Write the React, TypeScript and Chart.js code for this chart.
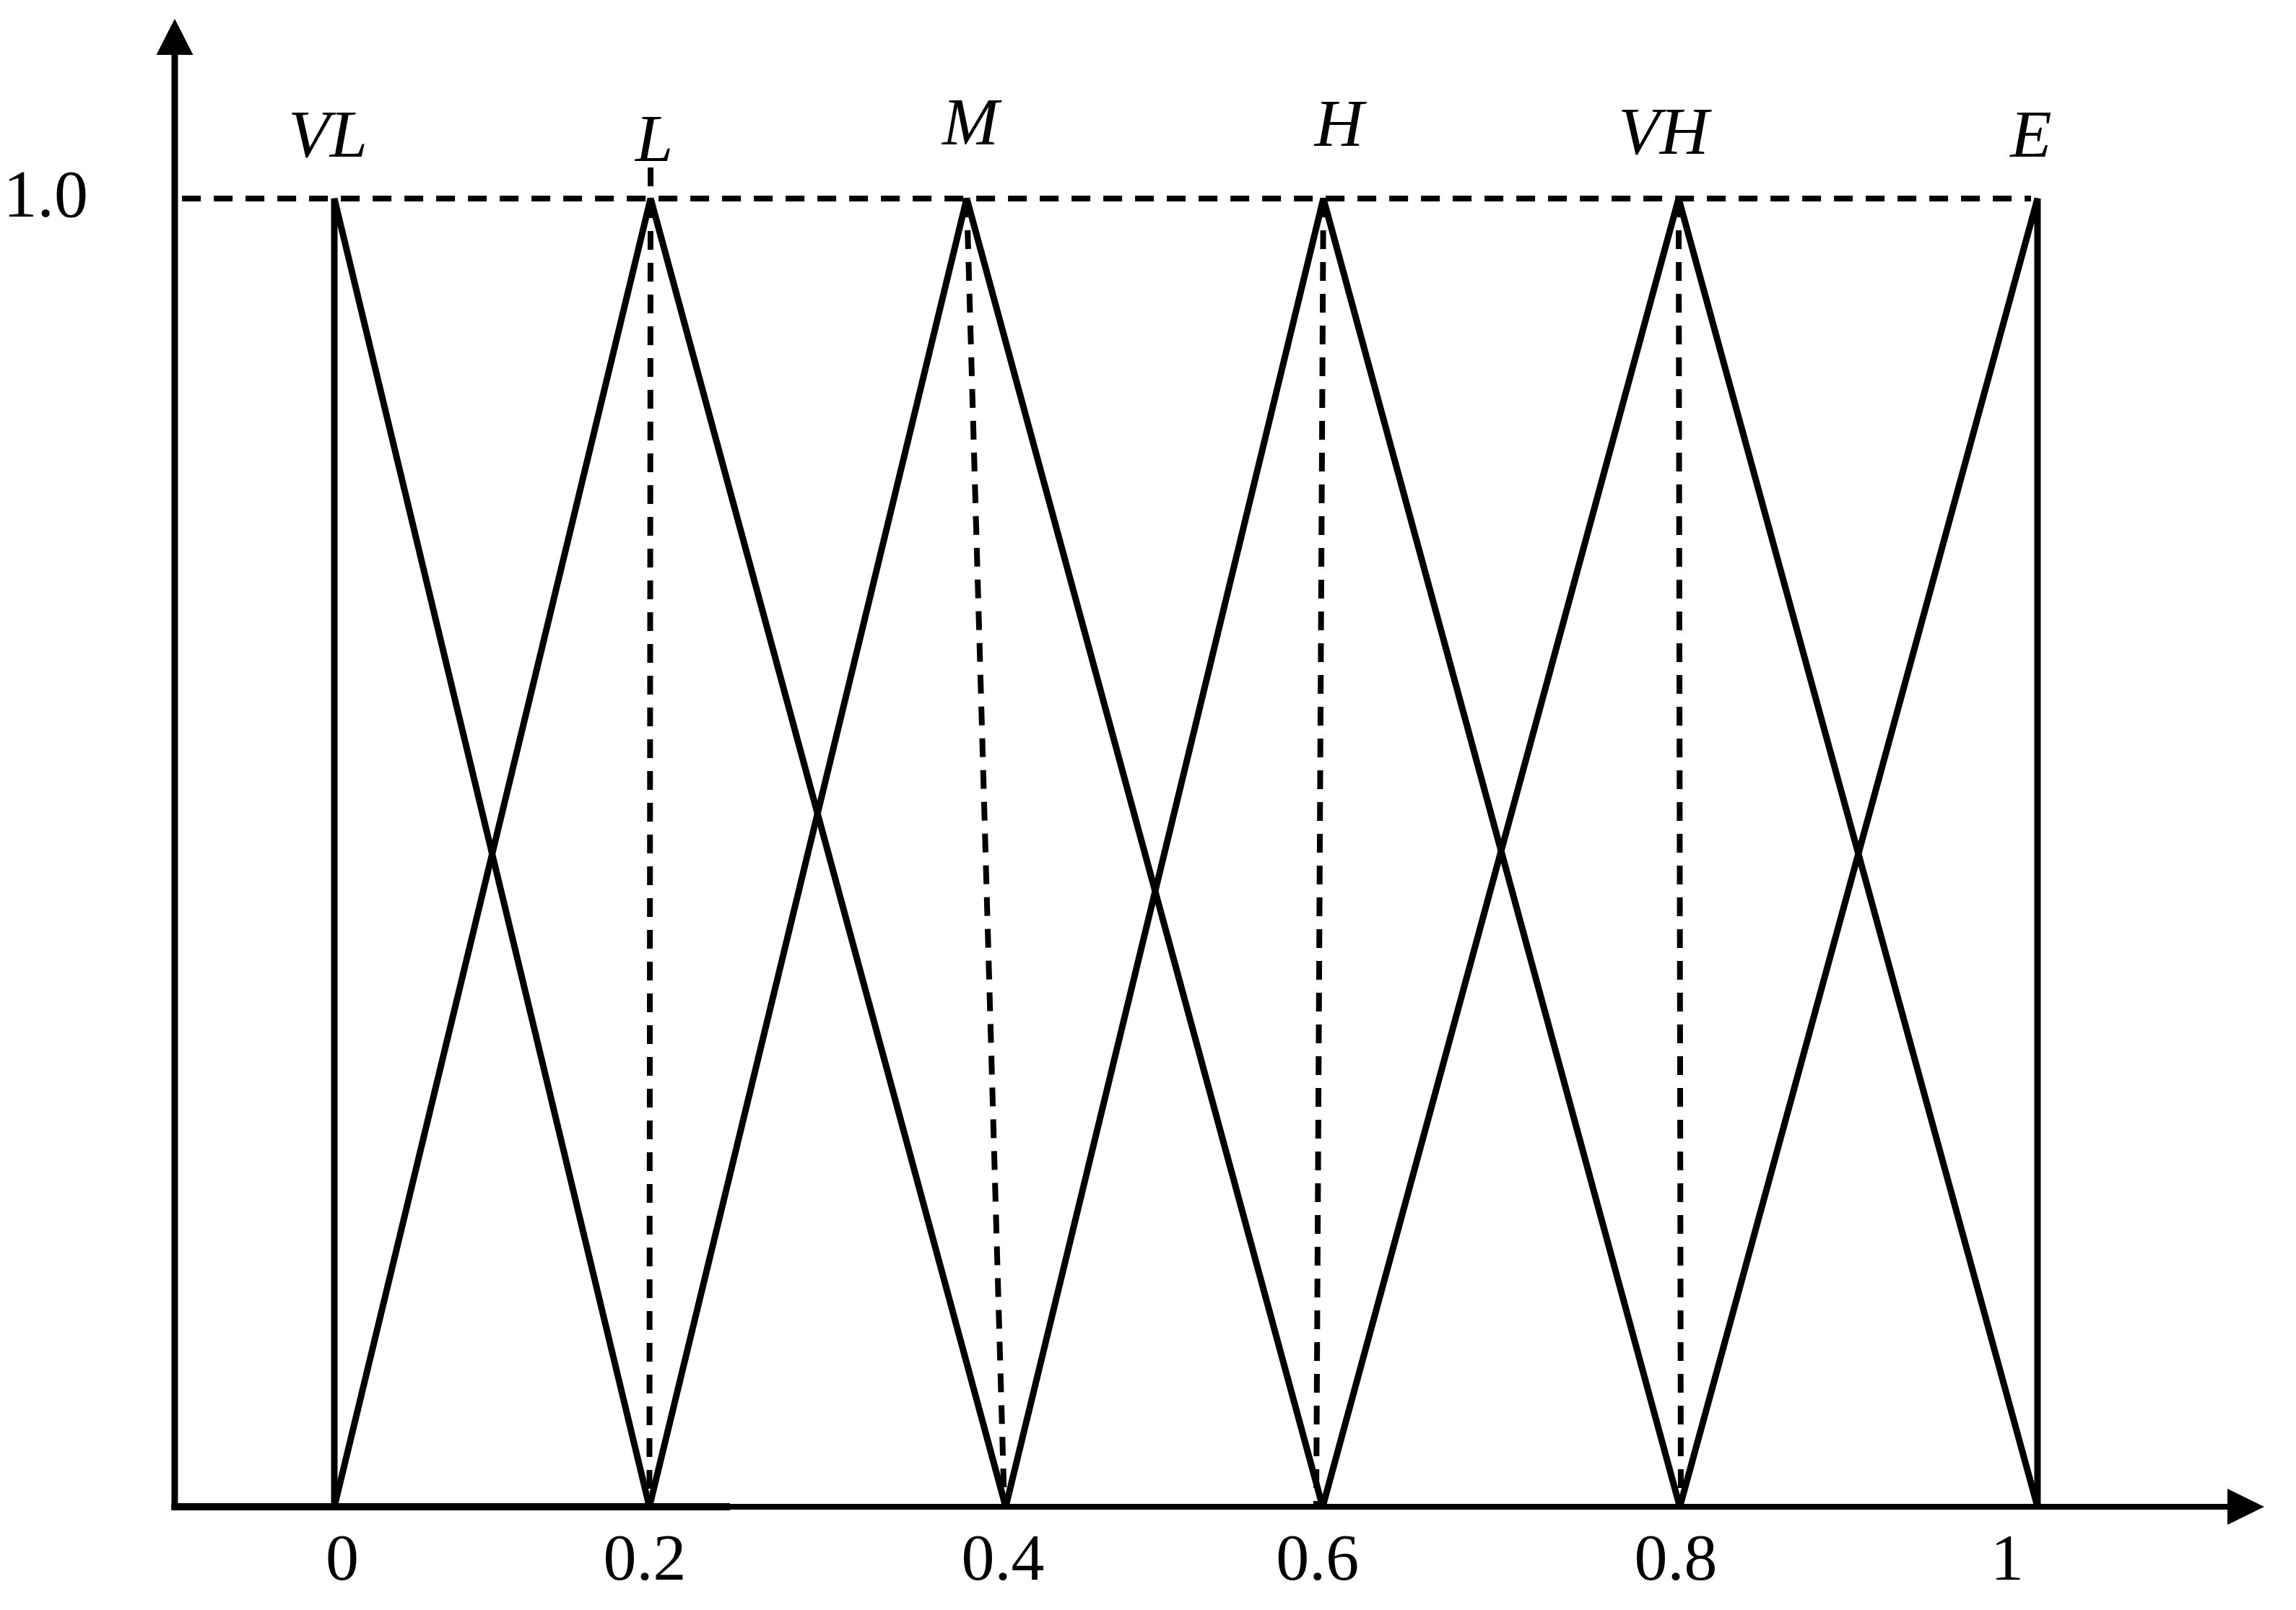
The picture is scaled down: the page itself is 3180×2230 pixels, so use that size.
import React, { useEffect, useRef } from "react";
import { Chart, registerables } from "chart.js";

Chart.register(...registerables);

// Linguistic terms of the fuzzy partition
const TERMS = ["VL", "L", "M", "H", "VH", "E"];
// Positions (drawn axis units) where each triangle reaches membership 1
const PEAK_X = [0, 0.1857, 0.3713, 0.5807, 0.7893, 1.0];
// Left and right feet (membership 0) of each triangle
const LEFT_FOOT_X = [0, 0, 0.185, 0.3942, 0.5803, 0.79];
const RIGHT_FOOT_X = [0.185, 0.3942, 0.5803, 0.79, 1.0, 1.0];
const PEAK_Y = 1;
const FOOT_Y = 0;

// Dashed guide lines from peaks down to the axis
const GUIDE_TOP_X = [0.1857, 0.3713, 0.5807, 0.7893];
const GUIDE_TOP_Y = [1.0237, 1, 1, 1];
const GUIDE_BOTTOM_X = [0.185, 0.3934, 0.5765, 0.7906];
// Dashed membership = 1.0 level line
const LEVEL_X = [-0.0894, 0.9962];

// Axis ticks
const X_TICK_POS = [0.0047, 0.1823, 0.3925, 0.5773, 0.7876, 0.9822];
const X_TICK_LABELS = ["0", "0.2", "0.4", "0.6", "0.8", "1"];
const Y_TICK_POS = [1];
const Y_TICK_LABELS = ["1.0"];

// Term label anchors (centre x, baseline y) in axis units
const LABEL_X = [-0.0038, 0.1878, 0.3735, 0.59, 0.7804, 0.9962];
const LABEL_Y = [1.032, 1.0287, 1.0414, 1.0403, 1.0342, 1.032];

const X_MIN = -0.0937;
const X_MAX = 1.1115;
const Y_MAX = 1.1098;
const THICK_AXIS_END = 0.2323;

const SERIF = "'Liberation Serif', 'Times New Roman', serif";

const overlayPlugin = {
  id: "overlay",
  afterDatasetsDraw(chart: any) {
    const ctx = chart.ctx;
    const xs = chart.scales.x;
    const ys = chart.scales.y;
    const x0 = xs.left;
    const y0 = ys.getPixelForValue(0);
    ctx.save();
    ctx.strokeStyle = "#000";
    ctx.fillStyle = "#000";
    ctx.lineCap = "butt";
    // y axis
    ctx.lineWidth = 9;
    ctx.beginPath();
    ctx.moveTo(x0, y0 + 4);
    ctx.lineTo(x0, ys.top);
    ctx.stroke();
    ctx.beginPath();
    ctx.moveTo(x0 - 25.5, ys.top);
    ctx.lineTo(x0 + 25.5, ys.top);
    ctx.lineTo(x0, ys.top - 50);
    ctx.closePath();
    ctx.fill();
    // x axis
    ctx.lineWidth = 8;
    ctx.beginPath();
    ctx.moveTo(x0 - 4.5, y0);
    ctx.lineTo(xs.right, y0);
    ctx.stroke();
    ctx.lineWidth = 10;
    ctx.beginPath();
    ctx.moveTo(x0 - 4.5, y0);
    ctx.lineTo(xs.getPixelForValue(THICK_AXIS_END), y0);
    ctx.stroke();
    ctx.beginPath();
    ctx.moveTo(xs.right, y0 - 25);
    ctx.lineTo(xs.right, y0 + 25);
    ctx.lineTo(xs.right + 51, y0);
    ctx.closePath();
    ctx.fill();
    // term labels
    ctx.font = `italic 94px ${SERIF}`;
    ctx.textAlign = "center";
    ctx.textBaseline = "alphabetic";
    TERMS.forEach((t, i) => {
      ctx.fillText(t, xs.getPixelForValue(LABEL_X[i]), ys.getPixelForValue(LABEL_Y[i]));
    });
    ctx.restore();
  },
};

export default function App() {
  const ref = useRef<HTMLCanvasElement | null>(null);

  useEffect(() => {
    if (!ref.current) return;
    const solid = TERMS.map((t, i) => ({
      label: t,
      data: [
        { x: LEFT_FOOT_X[i], y: FOOT_Y },
        { x: PEAK_X[i], y: PEAK_Y },
        { x: RIGHT_FOOT_X[i], y: FOOT_Y },
      ],
      borderColor: "#000",
      borderWidth: 9,
      borderJoinStyle: "bevel",
      borderCapStyle: "butt",
      pointRadius: 0,
      fill: false,
      tension: 0,
      clip: false,
    }));
    const dashStyle = {
      borderColor: "#000",
      borderWidth: 8,
      borderDash: [26, 18],
      borderCapStyle: "butt",
      pointRadius: 0,
      fill: false,
      tension: 0,
      clip: false,
    };
    const guides = GUIDE_TOP_X.map((gx, i) => ({
      label: "guide" + i,
      data: [
        { x: gx, y: GUIDE_TOP_Y[i] },
        { x: GUIDE_BOTTOM_X[i], y: FOOT_Y },
      ],
      ...dashStyle,
    }));
    const level = {
      label: "level",
      data: [
        { x: LEVEL_X[0], y: PEAK_Y },
        { x: LEVEL_X[1], y: PEAK_Y },
      ],
      ...dashStyle,
    };

    const chart = new Chart(ref.current, {
      type: "line",
      data: { datasets: [level, ...guides, ...solid] as any },
      plugins: [overlayPlugin],
      options: {
        animation: false,
        responsive: false,
        events: [],
        layout: { padding: { left: 0, right: 95, top: 76, bottom: 0 } },
        plugins: { legend: { display: false }, tooltip: { enabled: false }, title: { display: false } },
        scales: {
          x: {
            type: "linear",
            position: "bottom",
            min: X_MIN,
            max: X_MAX,
            bounds: "data",
            grid: { display: false, drawTicks: false },
            border: { display: false },
            afterBuildTicks: (scale: any) => {
              scale.ticks = X_TICK_POS.map((v) => ({ value: v }));
            },
            afterFit: (scale: any) => {
              scale.height = 143;
              scale.paddingLeft = 0;
              scale.paddingRight = 0;
              scale.paddingTop = 0;
              scale.paddingBottom = 0;
            },
            ticks: {
              autoSkip: false,
              maxRotation: 0,
              minRotation: 0,
              padding: 22,
              color: "#000",
              font: { family: SERIF, size: 92 },
              callback: (_v: any, i: number) => X_TICK_LABELS[i],
            },
          },
          y: {
            type: "linear",
            position: "left",
            min: 0,
            max: Y_MAX,
            bounds: "data",
            grid: { display: false, drawTicks: false },
            border: { display: false },
            afterBuildTicks: (scale: any) => {
              scale.ticks = Y_TICK_POS.map((v) => ({ value: v }));
            },
            afterFit: (scale: any) => {
              scale.width = 242;
              scale.paddingLeft = 0;
              scale.paddingRight = 0;
              scale.paddingTop = 0;
              scale.paddingBottom = 0;
            },
            ticks: {
              autoSkip: false,
              padding: 120,
              color: "#000",
              font: { family: SERIF, size: 94 },
              callback: (_v: any, i: number) => Y_TICK_LABELS[i],
            },
          },
        },
      } as any,
    });
    return () => chart.destroy();
  }, []);

  return (
    <div style={{ position: "fixed", left: 0, top: 0, width: 3180, height: 2230, background: "#fff" }}>
      <canvas ref={ref} width={3180} height={2230} style={{ width: 3180, height: 2230, display: "block" }} />
    </div>
  );
}
